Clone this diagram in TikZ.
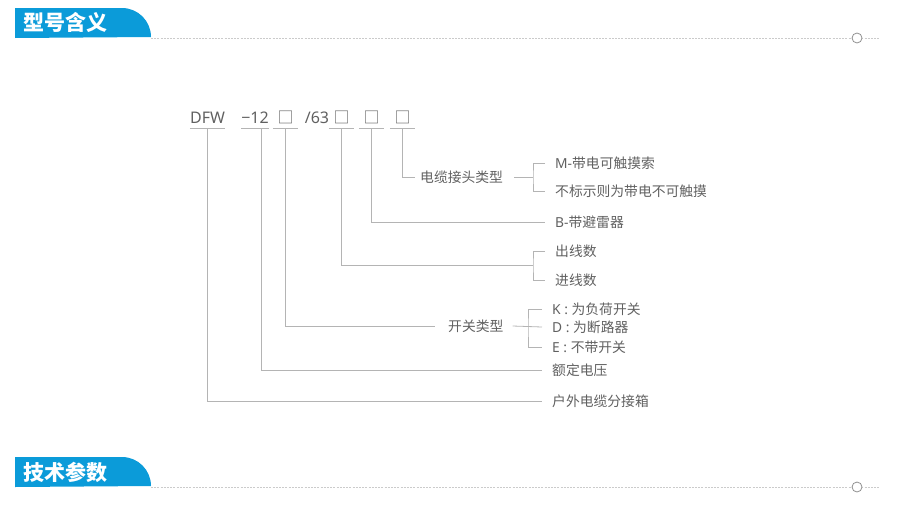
\documentclass[tikz,border=0pt]{standalone}
\usepackage{fontspec}
\setmainfont{Noto Sans CJK SC}
\newfontfamily\latin{Noto Sans}
\definecolor{headblue}{HTML}{0B9BD9}
\definecolor{txtgray}{HTML}{606060}
\definecolor{linegray}{HTML}{B4B4B4}

\begin{document}
\begin{tikzpicture}[x=1pt,y=-1pt,
    code/.style={text=txtgray,font=\fontsize{16}{16}\selectfont,inner sep=0pt,minimum width=25pt,text height=11pt,text depth=4pt,anchor=south},
    item/.style={text=txtgray,font=\fontsize{13.8}{14}\selectfont,inner xsep=10pt,inner ysep=1pt,anchor=west},
    group/.style={text=txtgray,font=\fontsize{13.8}{14}\selectfont,inner xsep=5pt,inner ysep=1pt,anchor=west},
    lead/.style={draw=linegray,line width=0.8pt},
    rule/.style={draw=linegray!70,line width=0.8pt,dash pattern=on 2pt off 1.2pt},
    title/.style={text=white,font=\fontsize{21}{21}\selectfont\bfseries,anchor=west,inner sep=0pt}]
    \useasboundingbox (0,0) rectangle (907,506);
    % headers
    \fill[headblue] (15,38) -- (15,8) -- (122,8) arc[start angle=-90,end angle=0,radius=29] -- cycle;
    \node[title] (h1) at (23,22) {型号含义};
    \draw[rule] (151,38) -- (880,38);
    \draw[linegray!80!black,fill=white,line width=0.8pt] (857,38) circle (5);
    \fill[headblue] (15,487) -- (15,457) -- (122,457) arc[start angle=-90,end angle=0,radius=29] -- cycle;
    \node[title] (h2) at (23,472) {技术参数};
    \draw[rule] (151,487) -- (880,487);
    \draw[linegray!80!black,fill=white,line width=0.8pt] (857,487) circle (5);
    % model code
    \node[code,minimum width=33pt] (dfw) at (207.5,128) {\latin DFW};
    \node[code] (v12) at (255,128) {\latin −12};
    \node[code] (b1) at (285.5,128) {□};
    \node[code,minimum width=0pt] (v63) at (317,128) {\latin /63};
    \node[code] (b2) at (341.5,128) {□};
    \node[code] (b3) at (371.5,128) {□};
    \node[code] (b4) at (402.5,128) {□};
    \foreach \n in {dfw,v12,b1,b2,b3,b4}
        \draw[lead] (\n.south west) -- (\n.south east);
    % labels
    \node[group] (cable) at (415,177) {电缆接头类型};
    \node[item] (m) at (545,163) {{\latin M-}带电可触摸索};
    \node[item] (nm) at (545,191) {不标示则为带电不可触摸};
    \node[item] (bl) at (545,222) {{\latin B-}带避雷器};
    \node[item] (out) at (545,251) {出线数};
    \node[item] (in) at (545,280) {进线数};
    \node[group] (sw) at (443,326) {开关类型};
    \node[item] (k) at (542,309) {{\latin K : }为负荷开关};
    \node[item] (d) at (542,327) {{\latin D : }为断路器};
    \node[item] (e) at (542,347) {{\latin E : }不带开关};
    \node[item] (volt) at (542,370) {额定电压};
    \node[item] (box) at (542,401) {户外电缆分接箱};
    \coordinate (j1) at (533,177);
    \coordinate (j2) at (533,265);
    \coordinate (j3) at (528,327);
    % leaders
    \draw[lead] (b4.south) |- (cable.west);
    \draw[lead] ([xshift=6pt]cable.east) -- (j1);
    \draw[lead] (m.west) -| (j1) |- (nm.west);
    \draw[lead] (b3.south) |- (bl.west);
    \draw[lead] (b2.south) -- (b2.south |- j2) -- (j2);
    \draw[lead] (out.west) -| (j2) |- (in.west);
    \draw[lead] (b1.south) -- (b1.south |- sw.west) -- ([xshift=-8pt]sw.west);
    \draw[lead] ([xshift=4pt]sw.east) -- (d.west);
    \draw[lead] (k.west) -| (j3) |- (e.west);
    \draw[lead] ([xshift=6pt]v12.south) |- (volt.west);
    \draw[lead] (dfw.south) |- (box.west);
\end{tikzpicture}
\end{document}
